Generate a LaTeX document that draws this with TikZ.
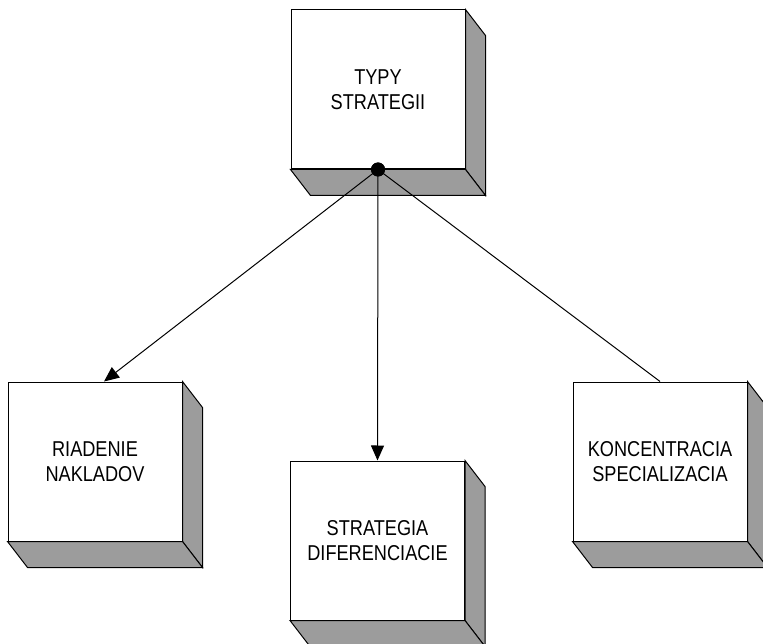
\documentclass[tikz,border=0pt]{standalone}
\usepackage{fontspec}
\setmainfont{Liberation Sans}
\newfontfamily\boxfont[FakeStretch=0.845]{Liberation Sans}
\usetikzlibrary{arrows.meta,calc}
\definecolor{sidegray}{RGB}{156,156,156}
\tikzset{
  face/.style={draw=black, fill=white, line width=1pt, minimum width=174pt,
    minimum height=159pt, inner sep=0pt, align=center,
    font=\boxfont\fontsize{21.5}{25.5}\selectfont},
  shade/.style={draw=black, fill=sidegray, line width=1pt, line join=miter},
  link/.style={line width=1pt, draw=black},
  tip/.style={-{Triangle[length=15pt,width=13pt]}},
  hubdot/.style={circle, fill=black, minimum size=14pt, inner sep=0pt}
}
% right side and bottom of a block, drawn from the front face's anchors
\newcommand\blockdepth[1]{%
  \draw[shade] (#1.north east) -- ++(20,26) -- ($(#1.south east)+(20,26)$)
    -- (#1.south east) -- cycle;
  \draw[shade] (#1.south west) -- ++(20,26) -- ($(#1.south east)+(20,26)$)
    -- (#1.south east) -- cycle;
}
\begin{document}
\begin{tikzpicture}[x=1pt,y=-1pt]
  \useasboundingbox (0,0) rectangle (763,644);
  % front faces
  \node[face] (top) at (378,89.5)   {TYPY\\STRATEGII};
  \node[face] (lb)  at (95,461.5)   {RIADENIE\\NAKLADOV};
  \node[face] (mb)  at (377.5,540.5){STRATEGIA\\DIFERENCIACIE};
  \node[face] (rb)  at (660,461.5)  {KONCENTRACIA\\SPECIALIZACIA};
  % depth of each block
  \blockdepth{top}
  \blockdepth{lb}
  \blockdepth{mb}
  \blockdepth{rb}
  % hub and connectors
  \node[hubdot] (hub) at (top.south) {};
  \coordinate (lbin) at ($(lb.north)+(9,0)$);
  \draw[link,tip] (hub.center) -- (lbin);
  \draw[link,tip] (hub.center) -- (mb.north);
  \draw[link] (hub.center) -- (rb.north);
  \node[hubdot] at (hub) {};
\end{tikzpicture}
\end{document}
